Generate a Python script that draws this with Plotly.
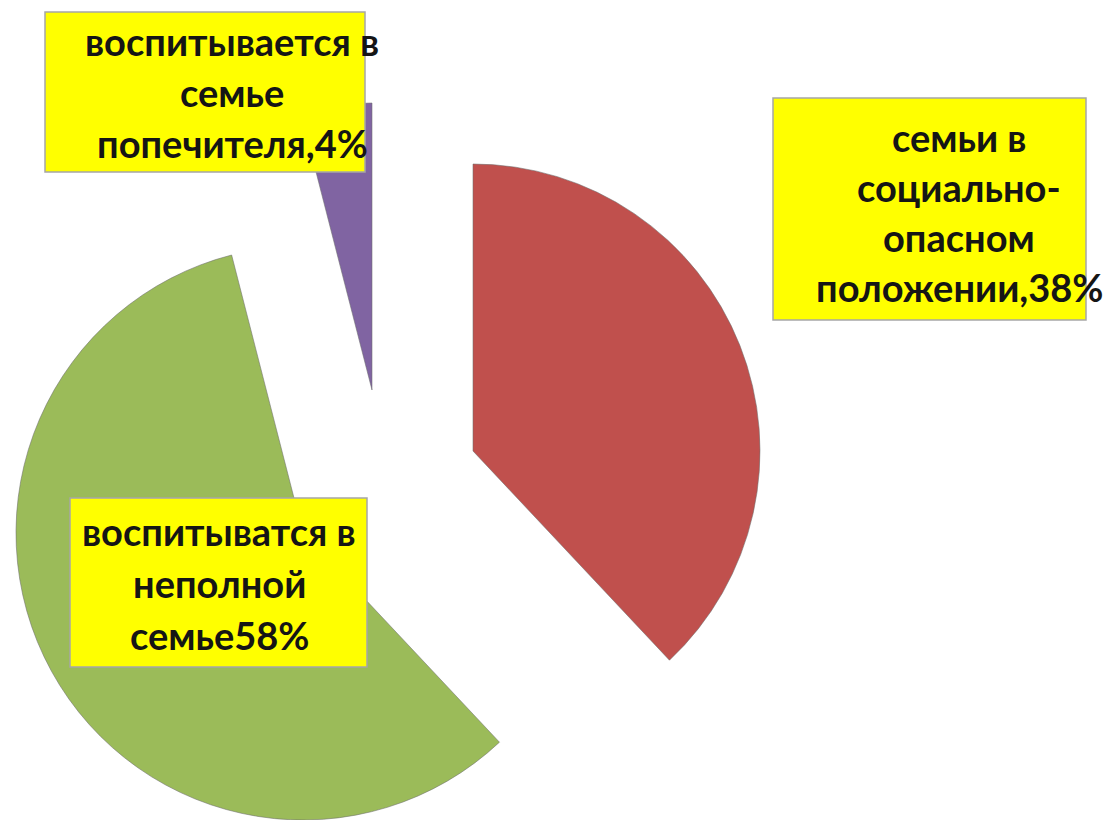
import plotly.graph_objects as go

# ---- data ----
categories = [
    "семьи в социально-опасном положении",
    "воспитыватся в неполной семье",
    "воспитывается в семье попечителя",
]
values = [38, 58, 4]
slice_colors = ["#C0504D", "#9BBB59", "#8064A2"]
label_lines = [
    ["семьи в", "социально-", "опасном", "положении,38%"],
    ["воспитыватся в", "неполной", "семье58%"],
    ["воспитывается в", "семье", "попечителя,4%"],
]

# ---- layout constants (pixels) ----
W, H = 1115, 820
R = 287
apex = [(473, 451), (303, 533), (372, 390)]          # exploded slice tips
boxes = [(773, 98, 1086, 320), (70, 498, 367, 667), (45, 12, 365, 172)]
text_x = [959, 219, 232]
text_y0 = [141, 535, 45]
line_gap = [50, 52, 51]
FONT_SIZE = 38


def px(x):
    return x / W


def py(y):
    return 1 - y / H


fig = go.Figure()
for i, (cx, cy) in enumerate(apex):
    cols = [c if j == i else "rgba(0,0,0,0)" for j, c in enumerate(slice_colors)]
    lw = [1 if j == i else 0 for j in range(len(values))]
    fig.add_trace(go.Pie(
        labels=categories,
        values=values,
        sort=False,
        direction="clockwise",
        rotation=0,
        marker=dict(colors=cols, line=dict(color="rgba(110,110,110,0.55)", width=lw)),
        textinfo="none",
        hoverinfo="skip",
        showlegend=False,
        domain=dict(x=[px(cx - R), px(cx + R)], y=[py(cy + R), py(cy - R)]),
    ))

shapes = []
for (x0, y0, x1, y1) in boxes:
    shapes.append(dict(type="rect", xref="paper", yref="paper",
                       x0=px(x0), x1=px(x1), y0=py(y1), y1=py(y0),
                       fillcolor="#FFFF00", line=dict(color="#A6A6A6", width=1.5),
                       layer="above"))

annotations = []
for lines, tx, ty0, gap in zip(label_lines, text_x, text_y0, line_gap):
    for k, line in enumerate(lines):
        annotations.append(dict(
            text=line, x=px(tx), y=py(ty0 + k * gap - 4),
            xref="paper", yref="paper", xanchor="center", yanchor="middle",
            showarrow=False,
            font=dict(family="Lato", size=FONT_SIZE, color="#151515", weight="bold"),
        ))

fig.update_layout(
    width=W, height=H,
    margin=dict(l=0, r=0, t=0, b=0),
    paper_bgcolor="white", plot_bgcolor="white",
    shapes=shapes, annotations=annotations,
)

fig.write_html("out.html", config={"displayModeBar": False},
               post_script="document.body.style.margin='0px';")
